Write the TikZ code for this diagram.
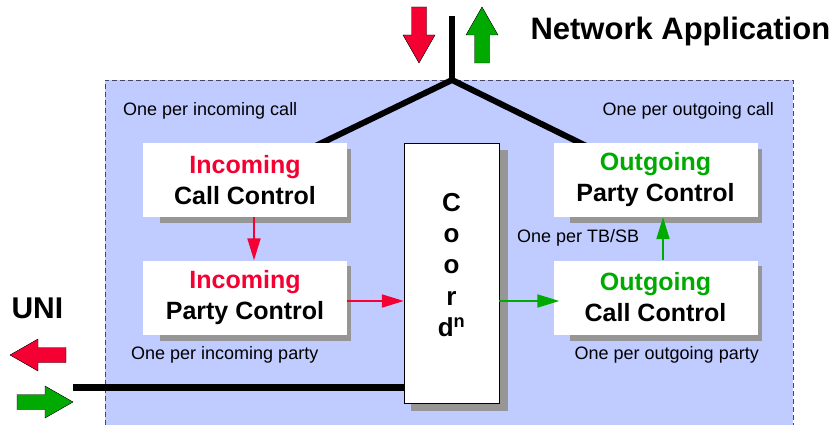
\documentclass[tikz,border=0pt]{standalone}
\usepackage{fontspec}
\setmainfont{Liberation Sans}
\usetikzlibrary{arrows.meta}
\usetikzlibrary{backgrounds}
\definecolor{inred}{RGB}{245,0,50}
\definecolor{outgreen}{RGB}{0,170,0}
\definecolor{panelblue}{RGB}{192,204,255}
\definecolor{shadowgray}{RGB}{150,150,150}
\definecolor{panelborder}{RGB}{70,70,100}

\tikzset{
  ctrlbox/.style={fill=white, minimum width=204pt, minimum height=74pt, inner sep=0pt,
    align=center, font=\fontsize{25}{31}\selectfont\bfseries},
  note/.style={inner sep=0pt, font=\fontsize{18}{20}\selectfont},
  bus/.style={line width=6pt, color=black},
  inflow/.style={-{Triangle[length=22pt,width=13pt]}, line width=2pt, color=inred},
  outflow/.style={-{Triangle[length=22pt,width=13pt]}, line width=2pt, color=outgreen},
  fatarrow/.pic={\path[pic actions] (0,-7.5) -- (28,-7.5) -- (28,-16) -- (56,0)
    -- (28,16) -- (28,7.5) -- (0,7.5) -- cycle;}
}

\begin{document}
\begin{tikzpicture}[line cap=butt,line join=miter,x=1pt,y=-1pt]
		\useasboundingbox (0,0) rectangle (832,425);

		%ohjauslaatikot
		\node[ctrlbox] (icc) at (245,180) {\textcolor{inred}{Incoming}\\Call Control};
		\node[ctrlbox] (ipc) at (245,297.5) {\textcolor{inred}{Incoming}\\Party Control};
		\node[ctrlbox] (opc) at (655.5,180) {\textcolor{outgreen}{Outgoing}\\Party Control};
		\node[ctrlbox] (occ) at (655.5,297.5) {\textcolor{outgreen}{Outgoing}\\Call Control};

		%koordinaattori
		\node[draw=black, thin, fill=white, minimum width=95pt, minimum height=260pt] (coord) at (451.5,273) {};
		\node[align=center, font=\fontsize{26}{31.3}\selectfont\bfseries] (coordtxt) at (451.5,265)
			{C\\o\\o\\r\\d\textsuperscript{n}};

		%tausta, varjot ja haarat
		\begin{scope}[on background layer]
		\fill[panelblue] (105,80) rectangle (793,425);
		\draw[panelborder, line width=0.8pt, dash pattern=on 5pt off 3pt] (105,425) -- (105,80) -- (793,80) -- (793,425);
		\foreach \b in {icc,ipc,opc,occ}
		{\fill[shadowgray] ([xshift=17pt,yshift=-6pt]\b.north west) rectangle ([xshift=4pt,yshift=-6pt]\b.south east);
		}
		\fill[shadowgray] ([xshift=7pt,yshift=-7pt]coord.north west) rectangle ([xshift=9pt,yshift=-8pt]coord.south east);
		\coordinate (fork) at (452,80);
		\draw[bus] (icc.center) -- (fork) -- (opc.center);
		\end{scope}

		\coordinate (nettop) at (452,16);
		\draw[bus] (nettop) -- (fork);

		\coordinate (unistart) at (73,387);
		\draw[bus, line width=7pt] (unistart) -- (unistart -| coord.west);

		%nuolet
		\draw[inflow] ([xshift=9pt]icc.south) -- ([xshift=9pt]ipc.north);
		\draw[inflow] ([yshift=-3.5pt]ipc.east) -- ([yshift=-3.5pt]ipc.east -| coord.west);
		\draw[outflow] ([yshift=-3.5pt]occ.west -| coord.east) -- ([yshift=-3.5pt,xshift=6pt]occ.west);
		\draw[outflow] ([xshift=7.5pt]occ.north) -- ([xshift=7.5pt]opc.south);

		%isot nuolet
		\pic[draw=black, thin, fill=inred, rotate=-90] at (419,7) {fatarrow};
		\pic[draw=black, thin, fill=outgreen, rotate=90] at (482,63) {fatarrow};
		\pic[draw=black, thin, fill=inred, rotate=180] at (66,355) {fatarrow};
		\pic[draw=black, thin, fill=outgreen] at (17,402) {fatarrow};

		%tekstit
		\node[anchor=base west, font=\fontsize{31}{36}\selectfont\bfseries] (netapp) at (527,40) {Network Application};
		\node[anchor=base west, font=\fontsize{30}{36}\selectfont\bfseries] (uni) at (8,318) {UNI};
		\node[note, anchor=west] (incall) at (123,111) {One per incoming call};
		\node[note, anchor=east] (outcall) at (774,111) {One per outgoing call};
		\node[note, anchor=west] (tbsb) at (517,238) {One per TB/SB};
		\node[note, anchor=west] (inparty) at (131,355) {One per incoming party};
		\node[note, anchor=east] (outparty) at (759,355) {One per outgoing party};

	\end{tikzpicture}
\end{document}
